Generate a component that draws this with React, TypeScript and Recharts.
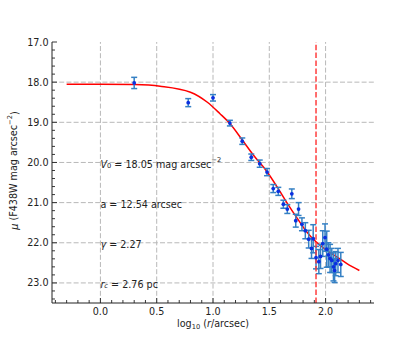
import { ComposedChart, Line, Scatter, ErrorBar, XAxis, YAxis, ReferenceLine, ReferenceDot } from 'recharts';

// observed surface brightness profile
const logR = [
  0.3, 0.78, 1.0, 1.15, 1.26, 1.34, 1.415, 1.48, 1.535, 1.58, 1.625, 1.66, 1.7, 1.735, 1.76, 1.79, 1.82,
  1.85, 1.875, 1.89, 1.915, 1.94, 1.955, 1.975, 1.995, 2.01, 2.025, 2.04, 2.055, 2.07, 2.08, 2.09, 2.11, 2.135,
];
const muObs = [
  18.02, 18.51, 18.39, 19.02, 19.47, 19.87, 20.03, 20.24, 20.65, 20.72, 21.04, 21.16, 20.78, 21.45, 21.16, 21.54, 21.7,
  21.91, 22.14, 21.9, 22.37, 22.47, 22.34, 22.02, 21.87, 22.16, 22.3, 22.39, 22.44, 22.6, 22.69, 22.52, 22.44, 22.54,
];
const muErr = [
  0.14, 0.1, 0.08, 0.07, 0.08, 0.08, 0.09, 0.09, 0.1, 0.1, 0.1, 0.11, 0.12, 0.16, 0.16, 0.16, 0.2,
  0.22, 0.25, 0.35, 0.28, 0.3, 0.3, 0.32, 0.34, 0.45, 0.3, 0.35, 0.3, 0.35, 0.3, 0.3, 0.3, 0.3,
];

// fitted profile
const fitLogR = [-0.3, 0.0, 0.3, 0.53, 0.8, 0.95, 1.06, 1.15, 1.26, 1.36, 1.48, 1.57, 1.66, 1.75, 1.83, 1.88, 1.95, 2.01, 2.1, 2.19, 2.3];
const fitMu = [18.05, 18.05, 18.06, 18.1, 18.25, 18.5, 18.78, 19.03, 19.44, 19.82, 20.23, 20.61, 21.02, 21.4, 21.72, 21.88, 22.06, 22.19, 22.35, 22.52, 22.69];

const tidalLogR = 1.915;

const xMajor = [0, 0.5, 1, 1.5, 2];
const yMajor = [17, 18, 19, 20, 21, 22, 23];
const xTicks = Array.from({ length: 29 }, (_, i) => Math.round((i - 4)) / 10);
const yTicks = Array.from({ length: 33 }, (_, i) => Math.round(170 + i * 2) / 10);

const notes = ['V0', 'a', 'gamma', 'rc'];
const noteY = [20, 21, 22, 23];

const points = logR.map((x, i) => ({ x, mu: muObs[i], err: muErr[i] }));
const fit = fitLogR.map((x, i) => ({ x, mu: fitMu[i] }));

const FONT = 'DejaVu Sans';
const FS = 9.6;
const AXIS = '#222';
const TXT = '#222';
const GRID = '#b8b8b8';

const isMajor = (v: number, majors: number[]) => majors.some((m) => Math.abs(m - v) < 1e-6);

const BottomTick = ({ x, y, payload }: any) => {
  const major = isMajor(payload.value, xMajor);
  return (
    <g>
      <line x1={x} x2={x} y1={y} y2={y - (major ? 5 : 3)} stroke={AXIS} strokeWidth={0.9} />
      {major && (
        <text x={x} y={y + 11.5} textAnchor="middle" fontSize={FS} fontFamily={FONT} fill={TXT}>
          {payload.value.toFixed(1)}
        </text>
      )}
    </g>
  );
};

const TopTick = ({ x, y, payload }: any) => {
  const major = isMajor(payload.value, xMajor);
  return <line x1={x} x2={x} y1={y} y2={y + (major ? 5 : 3)} stroke={AXIS} strokeWidth={0.9} />;
};

const LeftTick = ({ x, y, payload }: any) => {
  const major = isMajor(payload.value, yMajor);
  return (
    <g>
      <line x1={x} x2={x + (major ? 5 : 3)} y1={y} y2={y} stroke={AXIS} strokeWidth={0.9} />
      {major && (
        <text x={x - 3.5} y={y + 3.5} textAnchor="end" fontSize={FS} fontFamily={FONT} fill={TXT}>
          {payload.value.toFixed(1)}
        </text>
      )}
    </g>
  );
};

const RightTick = ({ x, y, payload }: any) => {
  const major = isMajor(payload.value, yMajor);
  return <line x1={x} x2={x - (major ? 5 : 3)} y1={y} y2={y} stroke={AXIS} strokeWidth={0.9} />;
};

const XLabel = ({ viewBox }: any) => (
  <text x={viewBox.x + viewBox.width / 2} y={viewBox.y + 24} textAnchor="middle" fontSize={FS} fontFamily={FONT} fill={TXT}>
    log<tspan fontSize={6.7} dy={2}>10</tspan>
    <tspan dy={-2}> (</tspan>
    <tspan fontStyle="italic">r</tspan>/arcsec)
  </text>
);

const YLabel = ({ viewBox }: any) => {
  const cx = viewBox.x + 5.5;
  const cy = viewBox.y + viewBox.height / 2 - 2;
  return (
    <text x={cx} y={cy} transform={`rotate(-90 ${cx} ${cy})`} textAnchor="middle" dominantBaseline="central" fontSize={FS} fontFamily={FONT} fill={TXT}>
      <tspan fontStyle="italic">μ</tspan> (F438W mag arcsec<tspan fontSize={6.7} dy={-4}>−2</tspan>
      <tspan dy={4}>)</tspan>
    </text>
  );
};

const Note = ({ viewBox, which }: any) => {
  const x = viewBox.x;
  const y = viewBox.y + 1.5;
  const common = { x, y, fontSize: FS, fontFamily: FONT, fill: TXT, dominantBaseline: 'central' as const };
  if (which === 'V0')
    return (
      <text {...common}>
        <tspan fontStyle="italic">V</tspan>
        <tspan fontSize={6.7} dy={2}>0</tspan>
        <tspan dy={-2}> = 18.05 mag arcsec</tspan>
        <tspan fontSize={6.7} dy={-4}>−2</tspan>
      </text>
    );
  if (which === 'a') return <text {...common}>a = 12.54 arcsec</text>;
  if (which === 'gamma')
    return (
      <text {...common}>
        <tspan fontStyle="italic">γ</tspan> = 2.27
      </text>
    );
  return (
    <text {...common}>
      <tspan fontStyle="italic">r</tspan>
      <tspan fontSize={6.7} dy={2} fontStyle="italic">c</tspan>
      <tspan dy={-2}> = 2.76 pc</tspan>
    </text>
  );
};

const Dot = ({ cx, cy }: any) => <circle cx={cx} cy={cy} r={1.9} fill="#0a2fe0" />;

export default function App() {
  return (
    <div style={{ position: 'absolute', left: 0, top: 0, background: '#fff' }}>
      <ComposedChart width={415} height={346} margin={{ top: 42, right: 41, bottom: 13, left: 8 }}>
        <XAxis
          xAxisId="b"
          type="number"
          dataKey="x"
          domain={[-0.43, 2.43]}
          allowDataOverflow
          ticks={xTicks}
          interval={0}
          tickSize={0}
          tickMargin={0}
          tickLine={false}
          tick={BottomTick}
          height={30}
          axisLine={{ stroke: AXIS, strokeWidth: 1 }}
          label={<XLabel />}
        />
        <XAxis
          xAxisId="t"
          orientation="top"
          type="number"
          dataKey="x"
          domain={[-0.43, 2.43]}
          allowDataOverflow
          ticks={xTicks}
          interval={0}
          tickSize={0}
          tickMargin={0}
          tickLine={false}
          tick={TopTick}
          height={0}
          axisLine={{ stroke: AXIS, strokeWidth: 1 }}
        />
        <YAxis
          yAxisId="l"
          type="number"
          dataKey="mu"
          domain={[17, 23.5]}
          reversed
          allowDataOverflow
          ticks={yTicks}
          interval={0}
          tickSize={0}
          tickMargin={0}
          tickLine={false}
          tick={LeftTick}
          width={44}
          axisLine={{ stroke: AXIS, strokeWidth: 1 }}
          label={<YLabel />}
        />
        <YAxis
          yAxisId="r"
          orientation="right"
          type="number"
          dataKey="mu"
          domain={[17, 23.5]}
          reversed
          allowDataOverflow
          ticks={yTicks}
          interval={0}
          tickSize={0}
          tickMargin={0}
          tickLine={false}
          tick={RightTick}
          width={0}
          axisLine={{ stroke: AXIS, strokeWidth: 1 }}
        />
        {xMajor.map((v) => (
          <ReferenceLine key={'gx' + v} xAxisId="b" yAxisId="l" x={v} stroke={GRID} strokeDasharray="5 2.2" strokeWidth={1} />
        ))}
        {yMajor.slice(1).map((v) => (
          <ReferenceLine key={'gy' + v} xAxisId="b" yAxisId="l" y={v} stroke={GRID} strokeDasharray="5 2.2" strokeWidth={1} />
        ))}
        {notes.map((n, i) => (
          <ReferenceDot key={n} xAxisId="b" yAxisId="l" x={0} y={noteY[i]} r={0} fill="none" stroke="none" label={<Note which={n} />} />
        ))}
        <Line
          xAxisId="b"
          yAxisId="l"
          data={fit}
          dataKey="mu"
          type="monotone"
          stroke="#ff0000"
          strokeWidth={1.5}
          dot={false}
          isAnimationActive={false}
        />
        <Scatter xAxisId="b" yAxisId="l" data={points} dataKey="mu" shape={<Dot />} isAnimationActive={false}>
          <ErrorBar dataKey="err" direction="y" width={3} stroke="#3580c4" strokeWidth={1.5} />
        </Scatter>
        <ReferenceLine xAxisId="b" yAxisId="l" x={tidalLogR} stroke="#ff3030" strokeDasharray="5.5 2.4" strokeWidth={1.4} />
      </ComposedChart>
    </div>
  );
}
